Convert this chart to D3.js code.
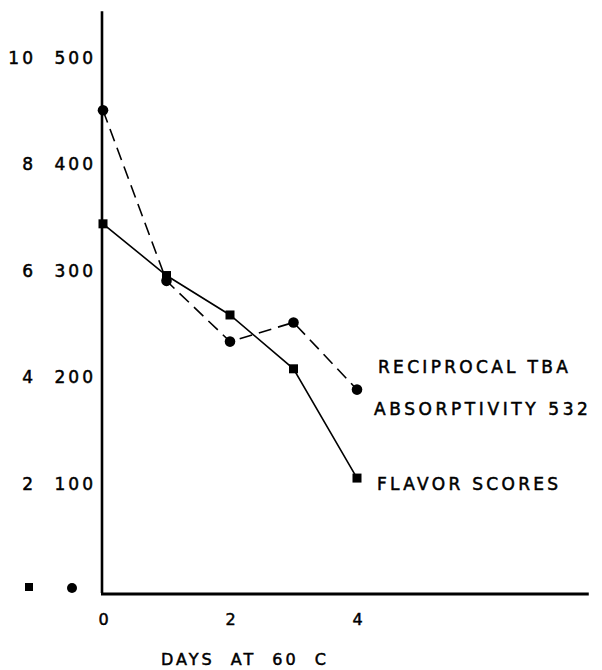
<!DOCTYPE html>
<html>
<head>
<meta charset="utf-8">
<script src="https://cdn.jsdelivr.net/npm/d3@7"></script>
<style>
  body { margin: 0; background: #fff; }
  text { font-family: "DejaVu Sans", sans-serif; fill: #000; stroke: #000; stroke-width: 0.5px; }
</style>
</head>
<body>
<svg width="602" height="670"></svg>
<script>
// data
var days = [0, 1, 2, 3, 4];
var tbaValues = [450, 290, 233, 251, 188];      // reciprocal TBA absorptivity (right column, 0-500)
var flavorValues = [6.87, 5.9, 5.16, 4.15, 2.1]; // flavor scores (left column, 0-10)
var tbaTicks = [100, 200, 300, 400, 500];
var flavorTicks = [2, 4, 6, 8, 10];
var dayTicks = [0, 2, 4];

var svg = d3.select("svg");

var x = d3.scaleLinear().domain([0, 4]).range([103, 357]);
var yTba = d3.scaleLinear().domain([0, 500]).range([590, 57]);
var yFlavor = d3.scaleLinear().domain([0, 10]).range([590, 57]);

var font = "17px";

// axis lines
svg.append("line")
    .attr("x1", x(0) - 1).attr("x2", x(0) - 1)
    .attr("y1", yTba(543)).attr("y2", yTba(0) + 3)
    .attr("stroke", "#000").attr("stroke-width", 2.6);
svg.append("line")
    .attr("x1", x(0) - 2).attr("x2", x(7.65))
    .attr("y1", yTba(0) + 4).attr("y2", yTba(0) + 4)
    .attr("stroke", "#000").attr("stroke-width", 3);

// right column of y labels (TBA)
svg.append("g")
    .attr("transform", "translate(96,0)")
    .call(d3.axisLeft(yTba).tickValues(tbaTicks).tickSize(0).tickPadding(0))
    .call(g => g.select(".domain").remove())
    .selectAll("text")
    .attr("font-family", "DejaVu Sans")
    .attr("font-size", font)
    .attr("letter-spacing", "3px")
    .attr("dy", "0.36em");

// left column of y labels (flavor)
svg.append("g")
    .attr("transform", "translate(36,0)")
    .call(d3.axisLeft(yFlavor).tickValues(flavorTicks).tickSize(0).tickPadding(0))
    .call(g => g.select(".domain").remove())
    .selectAll("text")
    .attr("font-family", "DejaVu Sans")
    .attr("font-size", font)
    .attr("letter-spacing", "3px")
    .attr("dy", "0.36em");

// x labels
svg.append("g")
    .attr("transform", "translate(0," + (yTba(0) + 29) + ")")
    .call(d3.axisBottom(x).tickValues(dayTicks).tickSize(0).tickPadding(0).tickFormat(d3.format("d")))
    .call(g => g.select(".domain").remove())
    .selectAll("text")
    .attr("font-family", "DejaVu Sans")
    .attr("font-size", "16px")
    .attr("dy", "0.35em");

svg.append("text")
    .attr("x", 245).attr("y", 665)
    .attr("text-anchor", "middle")
    .attr("font-size", "16px")
    .attr("letter-spacing", "3px")
    .attr("word-spacing", "8px")
    .text("DAYS AT 60 C");

// column key markers at the bottom left
svg.append("rect")
    .attr("x", 25).attr("y", yTba(0) - 7).attr("width", 8).attr("height", 8)
    .attr("fill", "#000");
svg.append("circle")
    .attr("cx", 72).attr("cy", yTba(0) - 2).attr("r", 5)
    .attr("fill", "#000");

// TBA series: dashed line with dots
svg.append("path")
    .datum(days)
    .attr("fill", "none")
    .attr("stroke", "#000")
    .attr("stroke-width", 1.6)
    .attr("stroke-dasharray", "13,7")
    .attr("d", d3.line()
        .x(d => x(d))
        .y((d, i) => yTba(tbaValues[i])));

svg.selectAll(".tba")
    .data(days)
    .enter().append("circle")
    .attr("class", "tba")
    .attr("cx", d => x(d))
    .attr("cy", (d, i) => yTba(tbaValues[i]))
    .attr("r", 5.3)
    .attr("fill", "#000");

// flavor series: solid line with squares
svg.append("path")
    .datum(days)
    .attr("fill", "none")
    .attr("stroke", "#000")
    .attr("stroke-width", 1.6)
    .attr("d", d3.line()
        .x(d => x(d))
        .y((d, i) => yFlavor(flavorValues[i])));

svg.selectAll(".flv")
    .data(days)
    .enter().append("rect")
    .attr("class", "flv")
    .attr("x", d => x(d) - 4.5)
    .attr("y", (d, i) => yFlavor(flavorValues[i]) - 4.5)
    .attr("width", 9).attr("height", 9)
    .attr("fill", "#000");

// series labels
var lastTba = tbaValues[tbaValues.length - 1];
var lastFlavor = flavorValues[flavorValues.length - 1];
svg.append("text")
    .attr("x", x(4) + 21).attr("y", yTba(lastTba) - 17)
    .attr("font-size", font).attr("letter-spacing", "3.3px")
    .text("RECIPROCAL TBA");
svg.append("text")
    .attr("x", x(4) + 17).attr("y", yTba(lastTba) + 25)
    .attr("font-size", font).attr("letter-spacing", "3.6px")
    .text("ABSORPTIVITY 532");
svg.append("text")
    .attr("x", x(4) + 20).attr("y", yFlavor(lastFlavor) + 12)
    .attr("font-size", font).attr("letter-spacing", "3.3px")
    .text("FLAVOR SCORES");
</script>
</body>
</html>
